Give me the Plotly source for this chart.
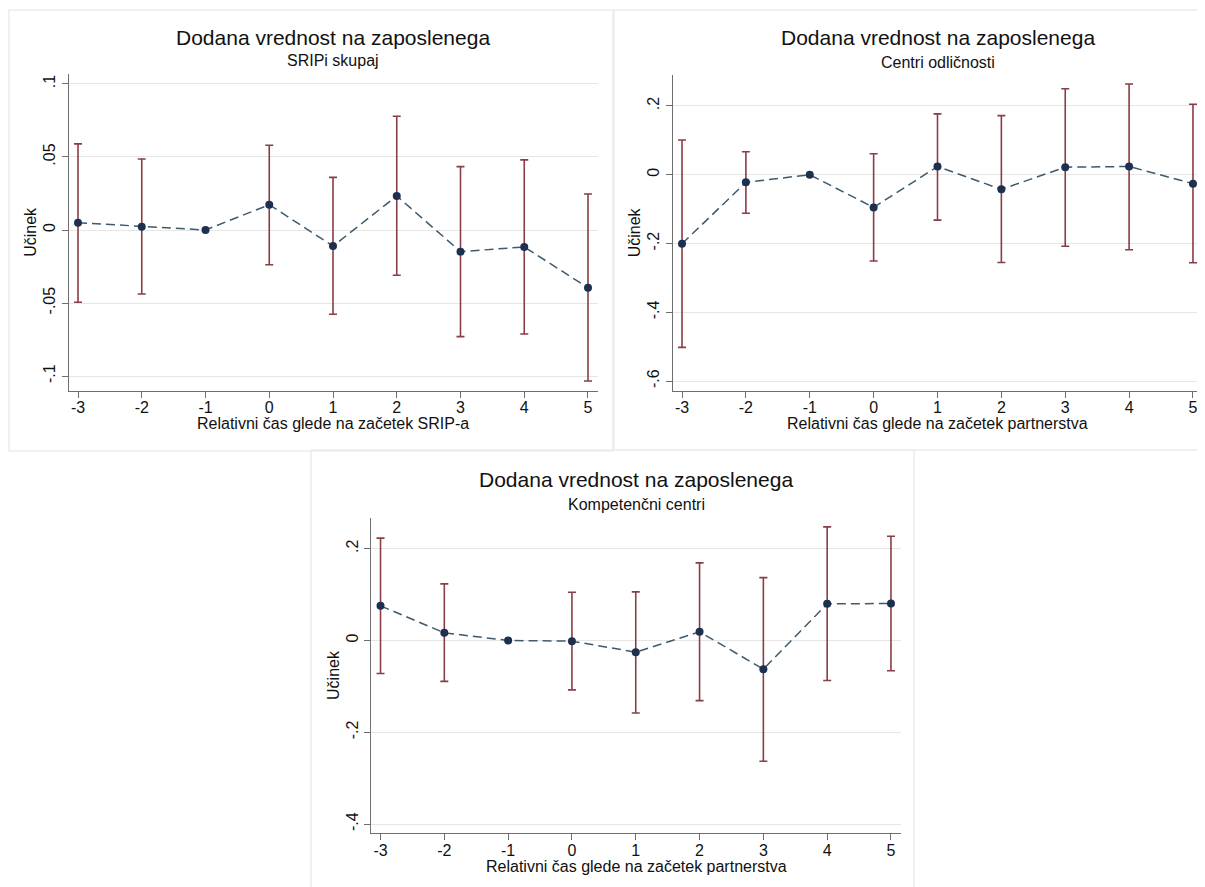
import plotly.graph_objects as go

# The page body has an 8px margin, so the figure is sized to fill the rest
PAGE_W, PAGE_H = 1205, 887
OFF = 8
W, H = PAGE_W - OFF, PAGE_H - OFF

# ---------------- data ----------------
periods = [-3, -2, -1, 0, 1, 2, 3, 4, 5]
x_ticktext = ["-3", "-2", "-1", "0", "1", "2", "3", "4", "5"]

title_main = "Dodana vrednost na zaposlenega"

# Panel 1: SRIPi skupaj
sub1 = "SRIPi skupaj"
xlab1 = "Relativni čas glede na začetek SRIP-a"
est1 = [0.005, 0.0023, 0.0, 0.0173, -0.011, 0.0233, -0.0148, -0.0116, -0.0395]
hi1 = [0.059, 0.0486, None, 0.058, 0.036, 0.0779, 0.0434, 0.048, 0.0247]
lo1 = [-0.0495, -0.0438, None, -0.0238, -0.0577, -0.031, -0.073, -0.0712, -0.1034]
yt1 = [0.1, 0.05, 0.0, -0.05, -0.1]
ytt1 = [".1", ".05", "0", "-.05", "-.1"]

# Panel 2: Centri odličnosti
sub2 = "Centri odličnosti"
xlab2 = "Relativni čas glede na začetek partnerstva"
est2 = [-0.2007, -0.022, 0.0, -0.095, 0.024, -0.0425, 0.022, 0.024, -0.026]
hi2 = [0.101, 0.067, None, 0.061, 0.177, 0.172, 0.250, 0.264, 0.205]
lo2 = [-0.502, -0.112, None, -0.251, -0.132, -0.255, -0.208, -0.218, -0.256]
yt2 = [0.2, 0.0, -0.2, -0.4, -0.6]
ytt2 = [".2", "0", "-.2", "-.4", "-.6"]

# Panel 3: Kompetenčni centri
sub3 = "Kompetenčni centri"
xlab3 = "Relativni čas glede na začetek partnerstva"
est3 = [0.0755, 0.0167, 0.0, -0.0015, -0.0254, 0.0189, -0.0624, 0.0799, 0.0806]
hi3 = [0.223, 0.1234, None, 0.105, 0.106, 0.169, 0.137, 0.2475, 0.227]
lo3 = [-0.072, -0.089, None, -0.1075, -0.158, -0.131, -0.263, -0.087, -0.066]
yt3 = [0.2, 0.0, -0.2, -0.4]
ytt3 = [".2", "0", "-.2", "-.4"]

ylab = "Učinek"

# ---------------- styling / layout ----------------
FONT = "Arial, Liberation Sans, sans-serif"
BAR_COLOR = "#8a3d44"
LINE_COLOR = "#3d5a6c"
MARK_COLOR = "#1e3050"
GRID = "#e6e6e6"
AXIS = "#6e6e6e"
TXT = "#111111"


def fx(px):
    return (px - OFF) / W


def fy(py):
    return 1 - (py - OFF) / H


panels = [
    dict(est=est1, hi=hi1, lo=lo1, sub=sub1, xlab=xlab1, yt=yt1, ytt=ytt1,
         px=(68.7, 598.0), py=(74.0, 390.7), yr=(-0.110, 0.1068),
         box=(9, 10, 613, 451), ttl_y=37, sub_y=61, xl_y=423),
    dict(est=est2, hi=hi2, lo=lo2, sub=sub2, xlab=xlab2, yt=yt2, ytt=ytt2,
         px=(672.7, 1203.0), py=(75.0, 390.7), yr=(-0.628, 0.290),
         box=(614, 10, 1215, 450), ttl_y=37, sub_y=62, xl_y=423),
    dict(est=est3, hi=hi3, lo=lo3, sub=sub3, xlab=xlab3, yt=yt3, ytt=ytt3,
         px=(371.2, 901.0), py=(517.7, 833.3), yr=(-0.420, 0.2675),
         box=(311, 450, 914, 895), ttl_y=479, sub_y=504, xl_y=866),
]

fig = go.Figure()
annotations = []
shapes = []

for i, p in enumerate(panels):
    n = "" if i == 0 else str(i + 1)
    xa, ya = "x" + n, "y" + n

    # confidence intervals (caps)
    ex, ey, eup, edn = [], [], [], []
    for xv, e, h, l in zip(periods, p["est"], p["hi"], p["lo"]):
        if h is None or l is None:
            continue
        ex.append(xv)
        ey.append(e)
        eup.append(h - e)
        edn.append(e - l)
    fig.add_trace(go.Scatter(
        x=ex, y=ey, mode="markers", marker=dict(size=1, opacity=0),
        error_y=dict(type="data", symmetric=False, array=eup, arrayminus=edn,
                     color=BAR_COLOR, thickness=1.6, width=4),
        xaxis=xa, yaxis=ya, showlegend=False, hoverinfo="skip"))

    # point estimates
    fig.add_trace(go.Scatter(
        x=periods, y=p["est"], mode="lines+markers",
        line=dict(color=LINE_COLOR, width=1.5, dash="9px,5px"),
        marker=dict(color=MARK_COLOR, size=8),
        xaxis=xa, yaxis=ya, showlegend=False))

    x0, x1 = p["px"]
    ytop, ybot = p["py"]
    fig.layout["xaxis" + n] = dict(
        domain=[fx(x0), fx(x1)], anchor=ya, range=[-3.146, 5.157],
        tickmode="array", tickvals=periods, ticktext=x_ticktext,
        ticks="outside", ticklen=6, tickcolor=AXIS, tickwidth=1,
        showline=True, linecolor=AXIS, linewidth=1.2, showgrid=False,
        zeroline=False, tickfont=dict(family=FONT, size=16, color=TXT),
        ticklabelstandoff=-4, fixedrange=True)
    fig.layout["yaxis" + n] = dict(
        domain=[fy(ybot), fy(ytop)], anchor=xa, range=list(p["yr"]),
        tickmode="array", tickvals=p["yt"], ticktext=p["ytt"], tickangle=-90,
        ticks="outside", ticklen=6, tickcolor=AXIS, tickwidth=1,
        showline=True, linecolor=AXIS, linewidth=1.2, showgrid=True,
        gridcolor=GRID, gridwidth=1, zeroline=False,
        tickfont=dict(family=FONT, size=16, color=TXT),
        title=dict(text=ylab, font=dict(family=FONT, size=16, color=TXT), standoff=0),
        fixedrange=True)

    cx = fx((x0 + x1) / 2)
    annotations.append(dict(text=title_main, x=cx, y=fy(p["ttl_y"]), xref="paper",
                            yref="paper", showarrow=False, xanchor="center", yanchor="middle",
                            font=dict(family=FONT, size=21, color=TXT)))
    annotations.append(dict(text=p["sub"], x=cx, y=fy(p["sub_y"]), xref="paper",
                            yref="paper", showarrow=False, xanchor="center", yanchor="middle",
                            font=dict(family=FONT, size=16, color=TXT)))
    annotations.append(dict(text=p["xlab"], x=cx, y=fy(p["xl_y"]), xref="paper",
                            yref="paper", showarrow=False, xanchor="center", yanchor="middle",
                            font=dict(family=FONT, size=16, color=TXT)))

    bx0, by0, bx1, by1 = p["box"]
    shapes.append(dict(type="rect", xref="paper", yref="paper",
                       x0=fx(bx0), x1=fx(bx1), y0=fy(by1), y1=fy(by0),
                       line=dict(color="#ececec", width=1.5), fillcolor="rgba(0,0,0,0)",
                       layer="below"))

fig.update_layout(
    width=W, height=H, margin=dict(l=0, r=0, t=0, b=0),
    paper_bgcolor="white", plot_bgcolor="white",
    annotations=annotations, shapes=shapes, showlegend=False,
    font=dict(family=FONT),
)

fig.write_html("out.html", config={"displayModeBar": False})
